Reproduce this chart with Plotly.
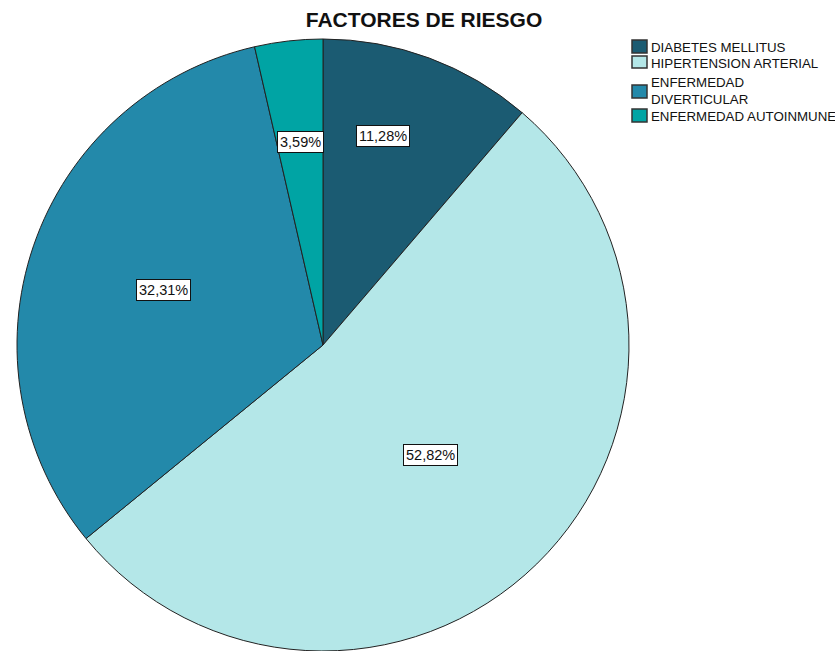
import math
import plotly.graph_objects as go

# Risk factor shares (percent)
categories = ["DIABETES MELLITUS", "HIPERTENSION ARTERIAL",
              "ENFERMEDAD DIVERTICULAR", "ENFERMEDAD AUTOINMUNE"]
legend_names = ["DIABETES MELLITUS", "HIPERTENSION ARTERIAL",
                "ENFERMEDAD<br>DIVERTICULAR", "ENFERMEDAD AUTOINMUNE"]
percentages = [11.28, 52.82, 32.31, 3.59]
slice_colors = ["#1B5B72", "#B4E7E8", "#2389AA", "#00A4A4"]

W, H = 835, 651
FONT = "Liberation Sans, Arial, sans-serif"

# Pie placement in pixels: centre and radius
CX, CY, R = 323, 345, 306
x_dom = [(CX - R) / W, (CX + R) / W]
y_dom = [max(0.0, 1 - (CY + R) / H), 1 - (CY - R) / H]

fig = go.Figure(go.Pie(
    labels=categories,
    values=percentages,
    sort=False,
    direction="clockwise",
    rotation=0,
    textinfo="none",
    hoverinfo="label+percent",
    showlegend=False,
    marker=dict(colors=slice_colors, line=dict(color="#222222", width=1)),
    domain=dict(x=x_dom, y=y_dom),
))

# Boxed percentage labels: (radius fraction, angle shift in degrees) per slice
label_place = [(0.71, -4.2), (0.503, 0.0), (0.552, 0.0), (0.667, 0.0)]
total = sum(percentages)
cum = 0.0
annotations = []
for val, (rf, shift) in zip(percentages, label_place):
    mid = math.radians((cum + val / 2) / total * 360 + shift)
    cum += val
    px = CX + rf * R * math.sin(mid)
    py = CY - rf * R * math.cos(mid)
    annotations.append(dict(
        x=px / W, y=1 - py / H, xref="paper", yref="paper",
        xanchor="center", yanchor="middle",
        text=f"{val:.2f}%".replace(".", ","),
        showarrow=False,
        font=dict(family=FONT, size=14.5, color="#111111"),
        bgcolor="white", bordercolor="#111111", borderwidth=1, borderpad=2,
    ))

# Legend drawn as swatches plus text
swatch_rows = [(40, 53), (56, 68), (85, 98), (109, 122)]
text_rows = [47.5, 63.5, 91, 116.5]
shapes = []
for color, (y0, y1), name, yc in zip(slice_colors, swatch_rows, legend_names, text_rows):
    shapes.append(dict(type="rect", xref="paper", yref="paper",
                       x0=632 / W, x1=647 / W, y0=1 - y1 / H, y1=1 - y0 / H,
                       fillcolor=color, line=dict(color="#333333", width=1.5)))
    annotations.append(dict(
        x=649 / W, y=1 - yc / H, xref="paper", yref="paper",
        xanchor="left", yanchor="middle", align="left", text=name,
        showarrow=False,
        font=dict(family=FONT, size=13.3, color="#111111"),
    ))

fig.update_layout(
    width=W, height=H,
    margin=dict(l=0, r=0, t=0, b=0),
    paper_bgcolor="white",
    showlegend=False,
    title=dict(text="<b>FACTORES DE RIESGO</b>", x=424 / W, xanchor="center",
               y=1 - 20 / H, yanchor="middle",
               font=dict(family=FONT, size=21, color="#111111")),
    annotations=annotations,
    shapes=shapes,
)

fig.write_html("out.html")
